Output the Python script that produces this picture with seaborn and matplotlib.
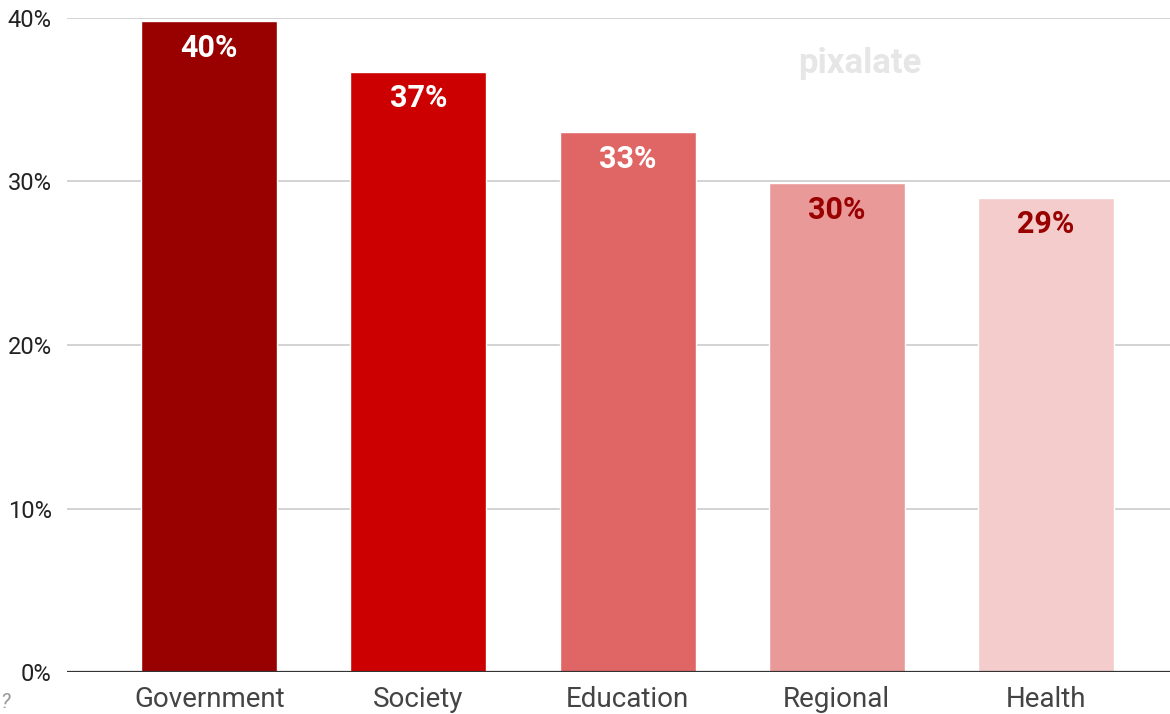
import numpy as np
import pandas as pd
import matplotlib.pyplot as plt
import seaborn as sns

# data
categories = ["Government", "Society", "Education", "Regional", "Health"]
values = [39.8, 36.7, 33.0, 29.9, 29.0]
labels = ["40%", "37%", "33%", "30%", "29%"]
bar_colors = ["#990000", "#cc0000", "#e06666", "#ea9999", "#f4cccc"]
label_colors = ["white", "white", "white", "#990000", "#990000"]
yticks = [0, 10, 20, 30, 40]

sns.set_style("white")
plt.rcParams['font.family'] = ['Roboto', 'DejaVu Sans']

df = pd.DataFrame({"category": categories, "value": values})

fig = plt.figure(figsize=(11.7, 7.14), dpi=100)
ax = fig.add_axes([67 / 1170, 42 / 714, 1103 / 1170, 654 / 714])

sns.barplot(data=df, x="category", y="value", hue="category",
            palette=bar_colors, legend=False, width=0.65, saturation=1,
            ax=ax, zorder=3)

ax.set_xlim(-0.68, 4.593)
ax.set_ylim(0, 40)
ax.set_yticks(yticks)
ax.set_yticklabels([f"{t}%" for t in yticks])
ax.yaxis.grid(True, color="#cccccc", linewidth=1.2, zorder=0)
ax.axhline(0, color="#333333", linewidth=1.6, zorder=4)
for s in ax.spines.values():
    s.set_visible(False)
ax.set_xlabel("")
ax.set_ylabel("")
ax.tick_params(axis="y", length=0, pad=11, labelsize=17, labelcolor="#222222")
ax.tick_params(axis="x", length=0, pad=10, labelsize=20, labelcolor="#444444")

for i, (v, lab, c) in enumerate(zip(values, labels, label_colors)):
    ax.annotate(lab, (i, v), xytext=(0, -19), textcoords="offset points",
                ha="center", va="center", fontsize=22, fontweight="bold",
                color=c, zorder=5)

# watermark and stray mark
fig.text(860 / 1170, 1 - 63 / 714, "pixalate", ha="center", va="center",
         fontsize=25, fontweight="bold", color="#e6e6e6", zorder=0)
fig.text(5 / 1170, 1 - 702 / 714, "?", ha="center", va="center",
         fontsize=15, color="#999999", style="italic")

plt.savefig("out.png", dpi=100)
